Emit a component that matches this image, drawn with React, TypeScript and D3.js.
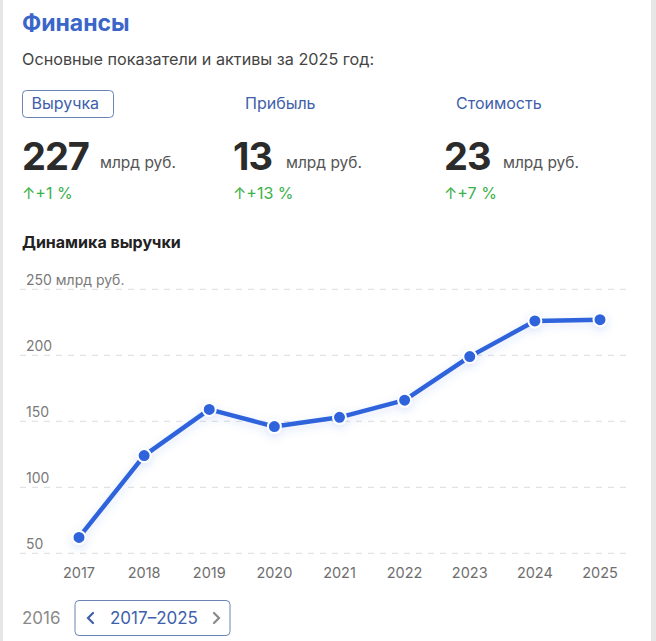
import * as d3 from 'd3';

const years = [2017, 2018, 2019, 2020, 2021, 2022, 2023, 2024, 2025];
const revenue = [62, 124, 159, 146, 153, 166, 199, 226, 227];
const yTicks = [50, 100, 150, 200, 250];

const kpiNames = ['Выручка', 'Прибыль', 'Стоимость'];
const kpiValues = [227, 13, 23];
const kpiGrowth = ['+1 %', '+13 %', '+7 %'];

const W = 656;
const H = 641;
const FONT = 'Inter, "Noto Sans", sans-serif';
const BLUE = '#2f64dc';

const App = () => {
  const x = d3.scalePoint<number>().domain(years).range([79, 600]);
  const y = d3.scaleLinear().domain([50, 250]).range([553.3, 289.3]);

  const line = d3
    .line<number>()
    .x((d, i) => x(years[i]) as number)
    .y(d => y(d));

  const kpiX = [22, 233, 444];
  const tabX = [22, 245, 456];

  return (
    <svg
      width={W}
      height={H}
      style={{ position: 'absolute', left: 0, top: 0, background: '#fff' }}
      fontFamily={FONT}
    >
      <defs>
        <filter id="glow" x="-10%" y="-20%" width="120%" height="140%">
          <feDropShadow dx="0" dy="3" stdDeviation="4" floodColor="#3b6fe0" floodOpacity="0.18" />
        </filter>
      </defs>

      <rect x={0} y={0} width={3} height={H} fill="#e6e6e6" />
      <rect x={651} y={0} width={5} height={H} fill="#e6e6e6" />

      <text x={22} y={31} fontSize={23} fontWeight={700} fill="#3b66c9">
        Финансы
      </text>
      <text x={22} y={65} fontSize={16.2} fill="#444">
        Основные показатели и активы за 2025 год:
      </text>

      <rect x={22.5} y={90.5} width={91} height={27} rx={4} fill="none" stroke="#6c84b4" />
      {kpiNames.map((n, i) => (
        <text key={n} x={tabX[i] + (i === 0 ? 9.5 : 0)} y={109} fontSize={16} fill="#3e60aa">
          {n}
        </text>
      ))}

      {kpiValues.map((v, i) => (
        <text key={i} x={kpiX[i]} y={170} fontSize={38} fontWeight={700} fill="#2b2b2b" letterSpacing={-1}>
          {v}
        </text>
      ))}
      {['млрд руб.', 'млрд руб.', 'млрд руб.'].map((u, i) => (
        <text key={'u' + i} x={[100, 286, 503][i]} y={168} fontSize={15.5} fill="#555">
          {u}
        </text>
      ))}
      {kpiGrowth.map((g, i) => (
        <text key={'g' + i} x={kpiX[i]} y={199} fontSize={16} fill="#3bb14a">
          {'↑' + g}
        </text>
      ))}

      <text x={22} y={248} fontSize={16} fontWeight={700} fill="#222">
        Динамика выручки
      </text>

      {yTicks.map(t => (
        <g key={t}>
          <line
            x1={20}
            x2={628}
            y1={y(t)}
            y2={y(t)}
            stroke="#dcdcdc"
            strokeDasharray="6 6"
          />
          <text x={26} y={y(t) - 4.5} fontSize={14} fill="#7a7a7a">
            {t === 250 ? '250 млрд руб.' : t}
          </text>
        </g>
      ))}

      {years.map(yr => (
        <text key={yr} x={x(yr)} y={578} fontSize={14.5} fill="#6e6e6e" textAnchor="middle">
          {yr}
        </text>
      ))}

      <g filter="url(#glow)">
        <path d={line(revenue) ?? ''} fill="none" stroke={BLUE} strokeWidth={4.5} strokeLinejoin="round" />
        {revenue.map((v, i) => (
          <circle key={i} cx={x(years[i])} cy={y(v)} r={6.5} fill={BLUE} stroke="#fff" strokeWidth={2} />
        ))}
      </g>

      <text x={22} y={624} fontSize={17} fill="#8a8a8a">
        2016
      </text>
      <rect x={75} y={600.5} width={155} height={35} rx={4} fill="none" stroke="#6c84b4" />
      <path d="M93 613 L88 618 L93 623" fill="none" stroke="#3e60aa" strokeWidth={2.2} strokeLinecap="round" />
      <text x={110} y={624} fontSize={17} fill="#3e60aa">
        2017–2025
      </text>
      <path d="M214 613 L219 618 L214 623" fill="none" stroke="#8a8a8a" strokeWidth={2.2} strokeLinecap="round" />
    </svg>
  );
};

export default App;
